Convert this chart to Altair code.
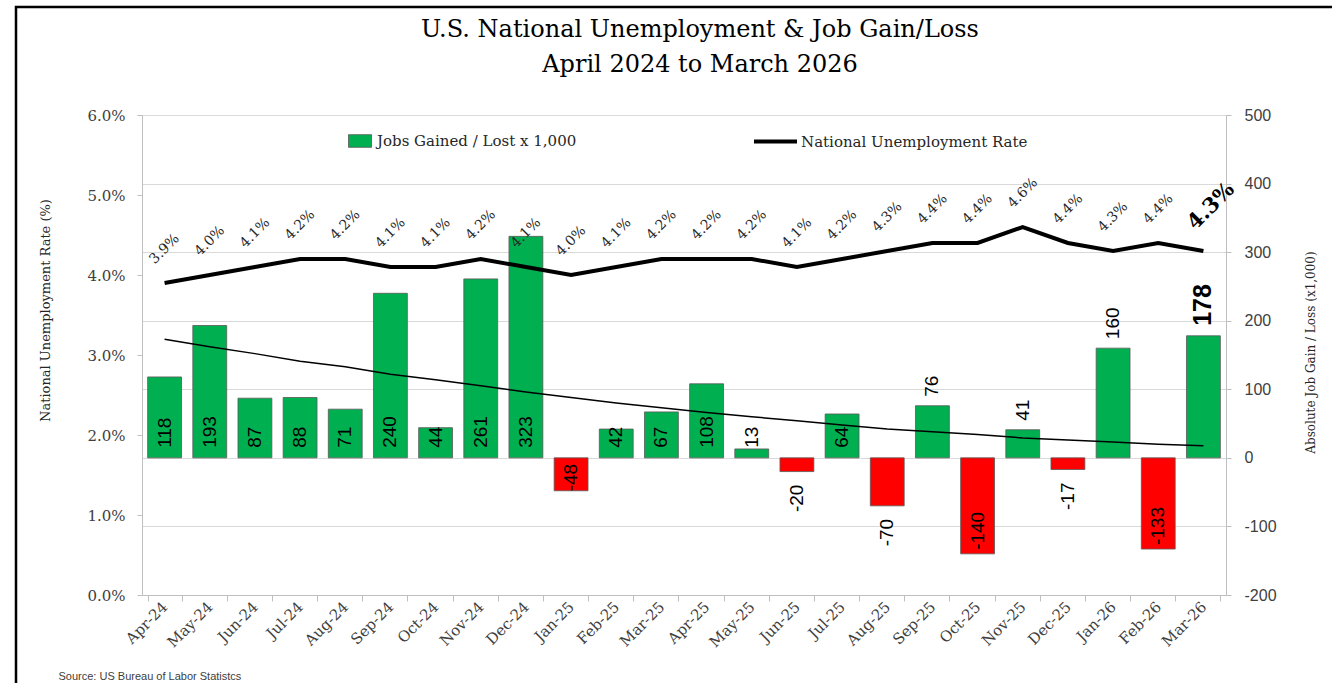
import altair as alt
import pandas as pd

months = ["Apr-24", "May-24", "Jun-24", "Jul-24", "Aug-24", "Sep-24", "Oct-24", "Nov-24",
          "Dec-24", "Jan-25", "Feb-25", "Mar-25", "Apr-25", "May-25", "Jun-25", "Jul-25",
          "Aug-25", "Sep-25", "Oct-25", "Nov-25", "Dec-25", "Jan-26", "Feb-26", "Mar-26"]
jobs = [118, 193, 87, 88, 71, 240, 44, 261, 323, -48, 42, 67,
        108, 13, -20, 64, -70, 76, -140, 41, -17, 160, -133, 178]
rate_pct = [3.9, 4.0, 4.1, 4.2, 4.2, 4.1, 4.1, 4.2, 4.1, 4.0, 4.1, 4.2,
            4.2, 4.2, 4.1, 4.2, 4.3, 4.4, 4.4, 4.6, 4.4, 4.3, 4.4, 4.3]
trend = [173, 162, 152, 141, 133, 122, 114, 105, 96, 88, 80, 73,
         66, 60, 54, 48, 42, 38, 34, 29, 26, 23, 20, 17.5]
label_pos = ["base", "base", "base", "base", "base", "base", "base", "base", "base",
             "base", "base", "base", "base", "base", "out", "base", "out", "out",
             "end", "out", "out", "out", "end", "out"]

GAIN = "Jobs Gained / Lost x 1,000"
LOSS = "Jobs Lost"
RATE = "National Unemployment Rate"
LAST = months[-1]

df = pd.DataFrame({
    "month": months,
    "jobs": jobs,
    "rate": [r / 100 for r in rate_pct],
    "trend": trend,
    "pos": label_pos,
})
df["kind"] = [GAIN if j >= 0 else LOSS for j in jobs]
df["series"] = RATE

SERIF = "DejaVu Serif"
SANS = "Liberation Sans"
AXIS_GREY = "#bfbfbf"

x_enc = alt.X(
    "month:N", sort=months,
    scale=alt.Scale(paddingInner=0.25, paddingOuter=0.125),
    axis=alt.Axis(
        labelAngle=-45, labelAlign="right", labelBaseline="middle",
        labelFont=SERIF, labelFontSize=15, labelColor="#404040", labelPadding=3,
        tickBand="extent", tickSize=6, tickColor=AXIS_GREY, domainColor=AXIS_GREY,
        grid=False,
        title="Source: US Bureau of Labor Statistcs",
        titleFont="Liberation Sans Narrow, Liberation Sans, Arial", titleFontSize=11,
        titleFontWeight="normal", titleColor="#404040",
        titleAnchor="start", titleAlign="left", titleBaseline="middle",
        titleX=-84, titleY=81,
    ),
)

jobs_scale = alt.Scale(domain=[-200, 500], nice=False, zero=False)
jobs_axis = alt.Axis(
    orient="right", values=[-200, -100, 0, 100, 200, 300, 400, 500], format="d",
    grid=True, gridColor="#d9d9d9", gridWidth=1,
    domainColor=AXIS_GREY, tickColor=AXIS_GREY, tickSize=5, labelPadding=13,
    labelFont=SANS, labelFontSize=16, labelColor="#404040",
    labelExpr="replace(datum.label, '\u2212', '-')",
    title="Absolute Job Gain / Loss (x1,000)", titleFont=SERIF, titleFontSize=12,
    titleFontWeight="normal", titleColor="#262626", titleAngle=270,
    titleX=84, titleY=237, titleAlign="center", titleBaseline="middle",
)

rate_scale = alt.Scale(domain=[0, 0.06], nice=False)
rate_axis = alt.Axis(
    orient="left", values=[0.0, 0.01, 0.02, 0.03, 0.04, 0.05, 0.06], format=".1%",
    grid=False, domainColor=AXIS_GREY, tickColor=AXIS_GREY, tickSize=5, labelPadding=12,
    labelFont=SERIF, labelFontSize=15, labelColor="#404040",
    title="National Unemployment Rate (%)", titleFont=SERIF, titleFontSize=13,
    titleFontWeight="normal", titleColor="#262626", titleAngle=270,
    titleX=-97, titleY=195, titleAlign="center", titleBaseline="middle",
)


def jy(field):
    return alt.Y(field, scale=jobs_scale, axis=jobs_axis)


def ry(field):
    return alt.Y(field, scale=rate_scale, axis=rate_axis)


base = alt.Chart(df)

bars = base.mark_bar(stroke="#595959", strokeWidth=0.8).encode(
    x=x_enc,
    y=jy("jobs:Q"),
    fill=alt.Fill(
        "kind:N",
        scale=alt.Scale(domain=[GAIN, LOSS], range=["#00B050", "#FF0000"]),
        legend=alt.Legend(
            title=None, orient="none", legendX=206, legendY=14, values=[GAIN],
            symbolType="M-1,-0.55H1V0.55H-1Z", symbolSize=529,
            symbolStrokeColor="#595959", symbolStrokeWidth=0.8,
            labelFont=SERIF, labelFontSize=15, labelColor="#262626",
            labelOffset=5, labelLimit=400, padding=0,
        ),
    ),
)

trend_line = base.mark_line(color="black", strokeWidth=1.5).encode(
    x=x_enc, y=jy("trend:Q")
)


def bar_labels(expr, yfield, align, dx, size=19, weight="normal"):
    return (
        base.transform_filter(expr)
        .transform_calculate(zero="0", lbl="'' + datum.jobs")
        .mark_text(angle=270, align=align, baseline="middle", dx=dx,
                   font=SANS, fontSize=size, fontWeight=weight, color="black")
        .encode(x=x_enc, y=jy(yfield), text=alt.Text("lbl:N"))
    )


lab_base_pos = bar_labels("datum.pos == 'base' && datum.jobs >= 0", "zero:Q", "left", 10)
lab_base_neg = bar_labels("datum.pos == 'base' && datum.jobs < 0", "zero:Q", "right", -6)
lab_out_pos = bar_labels(f"datum.pos == 'out' && datum.jobs >= 0 && datum.month != '{LAST}'",
                         "jobs:Q", "left", 9)
lab_out_last = bar_labels(f"datum.pos == 'out' && datum.month == '{LAST}'",
                          "jobs:Q", "left", 10, size=25, weight="bold")
lab_out_neg = bar_labels("datum.pos == 'out' && datum.jobs < 0", "jobs:Q", "right", -13)
lab_end_neg = bar_labels("datum.pos == 'end' && datum.jobs < 0", "jobs:Q", "left", 4)

jobs_group = alt.layer(bars, trend_line, lab_base_pos, lab_base_neg,
                       lab_out_pos, lab_out_last, lab_out_neg, lab_end_neg)

rate_line = base.mark_line(strokeWidth=4).encode(
    x=x_enc,
    y=ry("rate:Q"),
    stroke=alt.Stroke(
        "series:N",
        scale=alt.Scale(domain=[RATE], range=["black"]),
        legend=alt.Legend(
            title=None, orient="none", legendX=610, legendY=3,
            symbolType="stroke", symbolSize=1849, symbolStrokeWidth=4,
            labelFont=SERIF, labelFontSize=15, labelColor="#262626",
            labelOffset=2, labelLimit=400, padding=0,
        ),
    ),
)

rate_labels = base.transform_filter(f"datum.month != '{LAST}'").mark_text(
    angle=315, align="center", baseline="middle", dx=24, dy=-24,
    font=SERIF, fontSize=14, color="#262626",
).encode(x=x_enc, y=ry("rate:Q"), text=alt.Text("rate:Q", format=".1%"))

rate_last = base.transform_filter(f"datum.month == '{LAST}'").mark_text(
    angle=315, align="center", baseline="middle", dx=37, dy=-26,
    font=SERIF, fontSize=21, fontWeight="bold", color="black",
).encode(x=x_enc, y=ry("rate:Q"), text=alt.Text("rate:Q", format=".1%"))

rate_group = alt.layer(rate_line, rate_labels, rate_last)

frame = alt.Chart(pd.DataFrame({"f": [0]})).mark_rect(
    fill="white", fillOpacity=0, stroke="black", strokeWidth=2.5
).encode(
    x=alt.value(-126), x2=alt.value(1250), y=alt.value(-108), y2=alt.value(650)
)

chart = alt.layer(frame, jobs_group, rate_group).resolve_scale(
    y="independent"
).properties(
    width=1084,
    height=480,
    padding={"left": 142, "top": 115, "right": 106, "bottom": 88},
    autosize=alt.AutoSizeParams(type="none"),
    title=alt.TitleParams(
        text=["U.S. National Unemployment & Job Gain/Loss", "April 2024 to March 2026"],
        font=SERIF, fontSize=24, fontWeight="normal", color="black",
        anchor="middle", frame="group", offset=0, baseline="middle",
        lineHeight=35, dx=16, dy=83,
    ),
).configure_view(stroke=None).configure(background="white")

chart.save("out.html", embed_options={"renderer": "svg", "actions": False})
